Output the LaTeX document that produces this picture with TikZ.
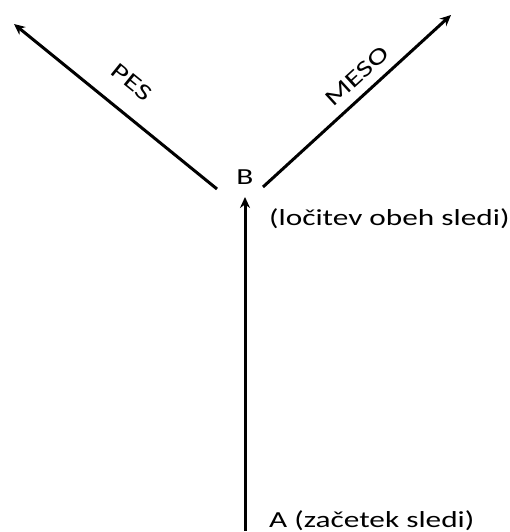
\documentclass[tikz,border=0pt]{standalone}
\usepackage{fontspec}
\setmainfont{Carlito}
\usetikzlibrary{arrows.meta}
\newcommand{\wide}[1]{\scalebox{1.36}[1]{#1}}
\begin{document}
\begin{tikzpicture}[x=1pt,y=1pt,
  lbl/.style={inner sep=0pt,font=\fontsize{23}{27}\selectfont},
  conn/.style={line width=3pt,-{Stealth[length=11pt,width=10pt]}}]
\useasboundingbox (0,0) rectangle (510,532);
\node[lbl] (B) at (245,355) {\wide{B}};
\coordinate (Astart) at (245,1);
\coordinate (Bin) at (245,335);
\coordinate (Lstart) at (217,343);
\coordinate (Lend) at (14,508);
\coordinate (Rstart) at (263,345);
\coordinate (Rend) at (451,517);
\draw[conn] (Astart) -- (Bin);
\draw[conn] (Lstart) -- (Lend);
\draw[conn] (Rstart) -- (Rend);
\node[lbl,anchor=west] (split) at (269,313) {\wide{(ločitev obeh sledi)}};
\node[lbl,anchor=base west] (A) at (269,5) {\wide{A (začetek sledi)}};
\node[lbl,rotate=-39] (pes) at (132,450) {\wide{PES}};
\node[lbl,rotate=42.5] (meso) at (357,456) {\wide{MESO}};
\end{tikzpicture}
\end{document}
